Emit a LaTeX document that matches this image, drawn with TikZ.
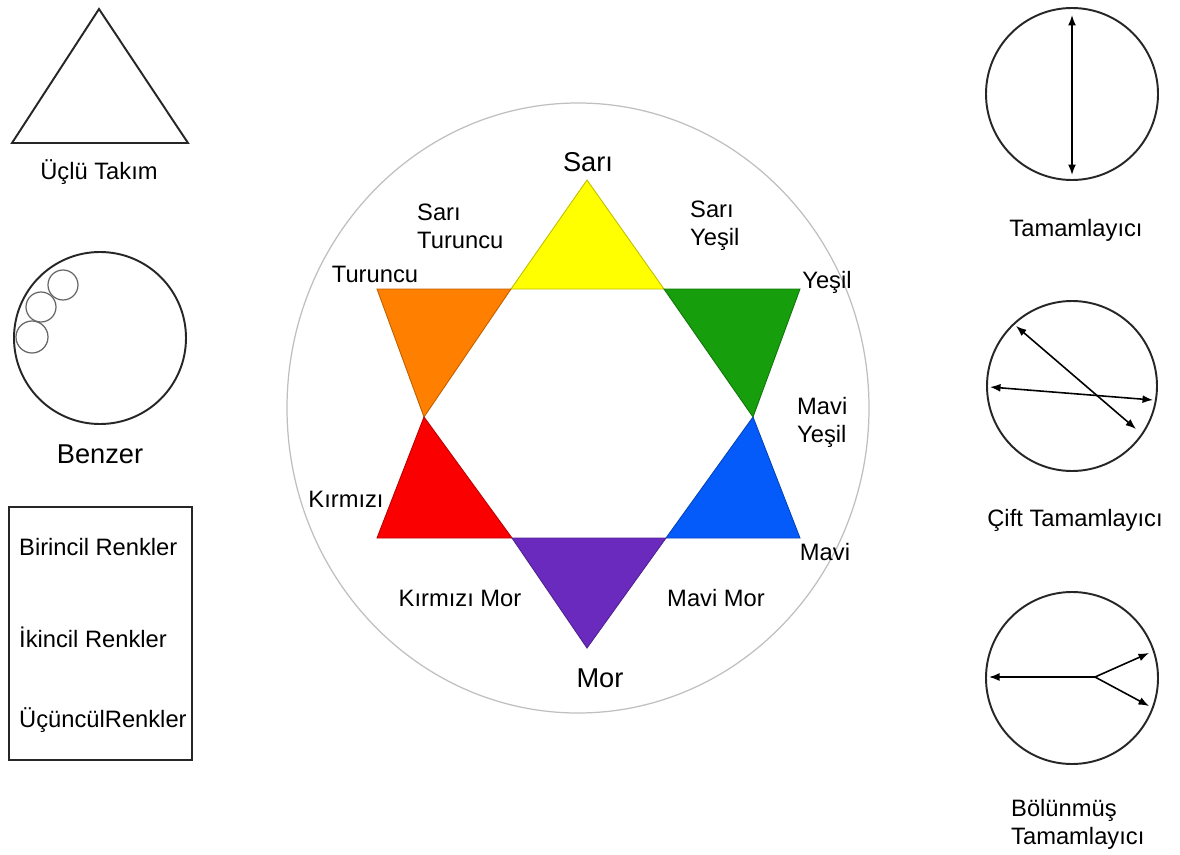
\documentclass[tikz,border=0pt]{standalone}
\usepackage{fontspec}
\setmainfont{Liberation Sans}
\setsansfont{Liberation Sans}
\usetikzlibrary{arrows.meta,calc,positioning}

\definecolor{sariC}{RGB}{255,255,0}
\definecolor{turC}{RGB}{255,128,0}
\definecolor{yesC}{RGB}{22,158,12}
\definecolor{kirC}{RGB}{250,0,0}
\definecolor{mavC}{RGB}{5,90,250}
\definecolor{morC}{RGB}{106,42,190}

\begin{document}
\begin{tikzpicture}[x=0.02cm,y=-0.02cm,font=\sffamily\fontsize{13.5}{16}\selectfont,
  outline/.style={draw=black!85, line width=1.1pt},
  piece/.style={draw=#1!75!black, line width=0.5pt, fill=#1},
  twoway/.style={line width=0.9pt, {Latex[length=2.1mm,width=1.6mm]}-{Latex[length=2.1mm,width=1.6mm]}},
  oneway/.style={line width=0.9pt, -{Latex[length=2.1mm,width=1.6mm]}},
  biglabel/.style={font=\sffamily\fontsize{15.5}{18}\selectfont}]
  \useasboundingbox (0,0) rectangle (1180,855);
  \fill[white] (0,0) rectangle (1180,855);

  % ---------- left column: triad, analogous, legend box ----------
  \coordinate (tri top) at (99,9);
  \coordinate (tri left) at (12,143);
  \coordinate (tri right) at (188,143);
  \draw[outline] (tri top) -- (tri right) -- (tri left) -- cycle;
  \node (triad) at (99,172) {Üçlü Takım};

  \coordinate (benz) at (100,338);
  \draw[outline] (benz) circle (86);
  \draw[draw=black!60, line width=0.7pt] (63,285) circle (15);
  \draw[draw=black!60, line width=0.7pt] (41,307) circle (15);
  \draw[draw=black!60, line width=0.7pt] (32,337) circle (16);
  \node[biglabel] (benzer) at (100,454) {Benzer};

  \draw[outline] (9,507) rectangle (192,760);
  \node[anchor=west] (birincil) at (13,547) {Birincil Renkler};
  \node[anchor=west] (ikincil) at (13,637) {İkincil Renkler};
  \node[anchor=west] (ucuncul) at (13,720) {ÜçüncülRenkler};

  % ---------- colour wheel ----------
  \coordinate (wheel) at (578,408);
  \draw[draw=black!25, line width=0.7pt] (wheel) ellipse (291 and 305);

  \coordinate (sari) at (587,180);
  \coordinate (tur) at (377,289);
  \coordinate (yes) at (800,289);
  \coordinate (kir) at (377,538);
  \coordinate (mav) at (800,538);
  \coordinate (mor) at (587,648);
  % inner hexagon
  \coordinate (hA) at (511,289);
  \coordinate (hB) at (664,289);
  \coordinate (hC) at (753,417);
  \coordinate (hD) at (666,538);
  \coordinate (hE) at (512,538);
  \coordinate (hF) at (424,417);

  \path[piece=sariC] (sari) -- (hB) -- (hA) -- cycle;
  \path[piece=turC] (tur) -- (hA) -- (hF) -- cycle;
  \path[piece=yesC] (hB) -- (yes) -- (hC) -- cycle;
  \path[piece=kirC] (hF) -- (hE) -- (kir) -- cycle;
  \path[piece=mavC] (hC) -- (mav) -- (hD) -- cycle;
  \path[piece=morC] (hE) -- (hD) -- (mor) -- cycle;

  \node[biglabel] (l sari) at (588,162) {Sarı};
  \node[anchor=west, align=left] (l saritur) at (411,226) {Sarı\\Turuncu};
  \node[anchor=west, align=left] (l sariyes) at (684,226) {Sarı\\Yeşil};
  \node (l tur) at (375,274) {Turuncu};
  \node (l yes) at (827,282) {Yeşil};
  \node[anchor=west, align=left] (l mavyes) at (791,422) {Mavi\\Yeşil};
  \node (l kir) at (346,499) {Kırmızı};
  \node (l mav) at (825,552) {Mavi};
  \node (l kirmor) at (460,598) {Kırmızı Mor};
  \node (l mavmor) at (716,598) {Mavi Mor};
  \node[biglabel] (l mor) at (600,678) {Mor};

  % ---------- right column: complementary schemes ----------
  \coordinate (tam) at (1072,94);
  \draw[outline] (tam) circle (86);
  \coordinate (tam top) at (1072,15);
  \coordinate (tam bot) at (1072,175);
  \draw[twoway] (tam top) -- (tam bot);
  \node (tamamlayici) at (1076,230) {Tamamlayıcı};

  \coordinate (cift) at (1072,386);
  \draw[outline] (cift) circle (85);
  \coordinate (c1a) at (1016,326);
  \coordinate (c1b) at (1136,429);
  \coordinate (c2a) at (990,387);
  \coordinate (c2b) at (1153,400);
  \draw[twoway] (c1a) -- (c1b);
  \draw[twoway] (c2a) -- (c2b);
  \node (cifttam) at (1075,520) {Çift Tamamlayıcı};

  \coordinate (bol) at (1072,678);
  \draw[outline] (bol) circle (86);
  \coordinate (fork) at (1095,677);
  \coordinate (b left) at (989,677);
  \coordinate (b up) at (1149,653);
  \coordinate (b down) at (1149,706);
  \draw[oneway] (fork) -- (b left);
  \draw[oneway] (fork) -- (b up);
  \draw[oneway] (fork) -- (b down);
  \node[anchor=west, align=left] (boltam) at (1005,824) {Bölünmüş\\Tamamlayıcı};
\end{tikzpicture}
\end{document}
